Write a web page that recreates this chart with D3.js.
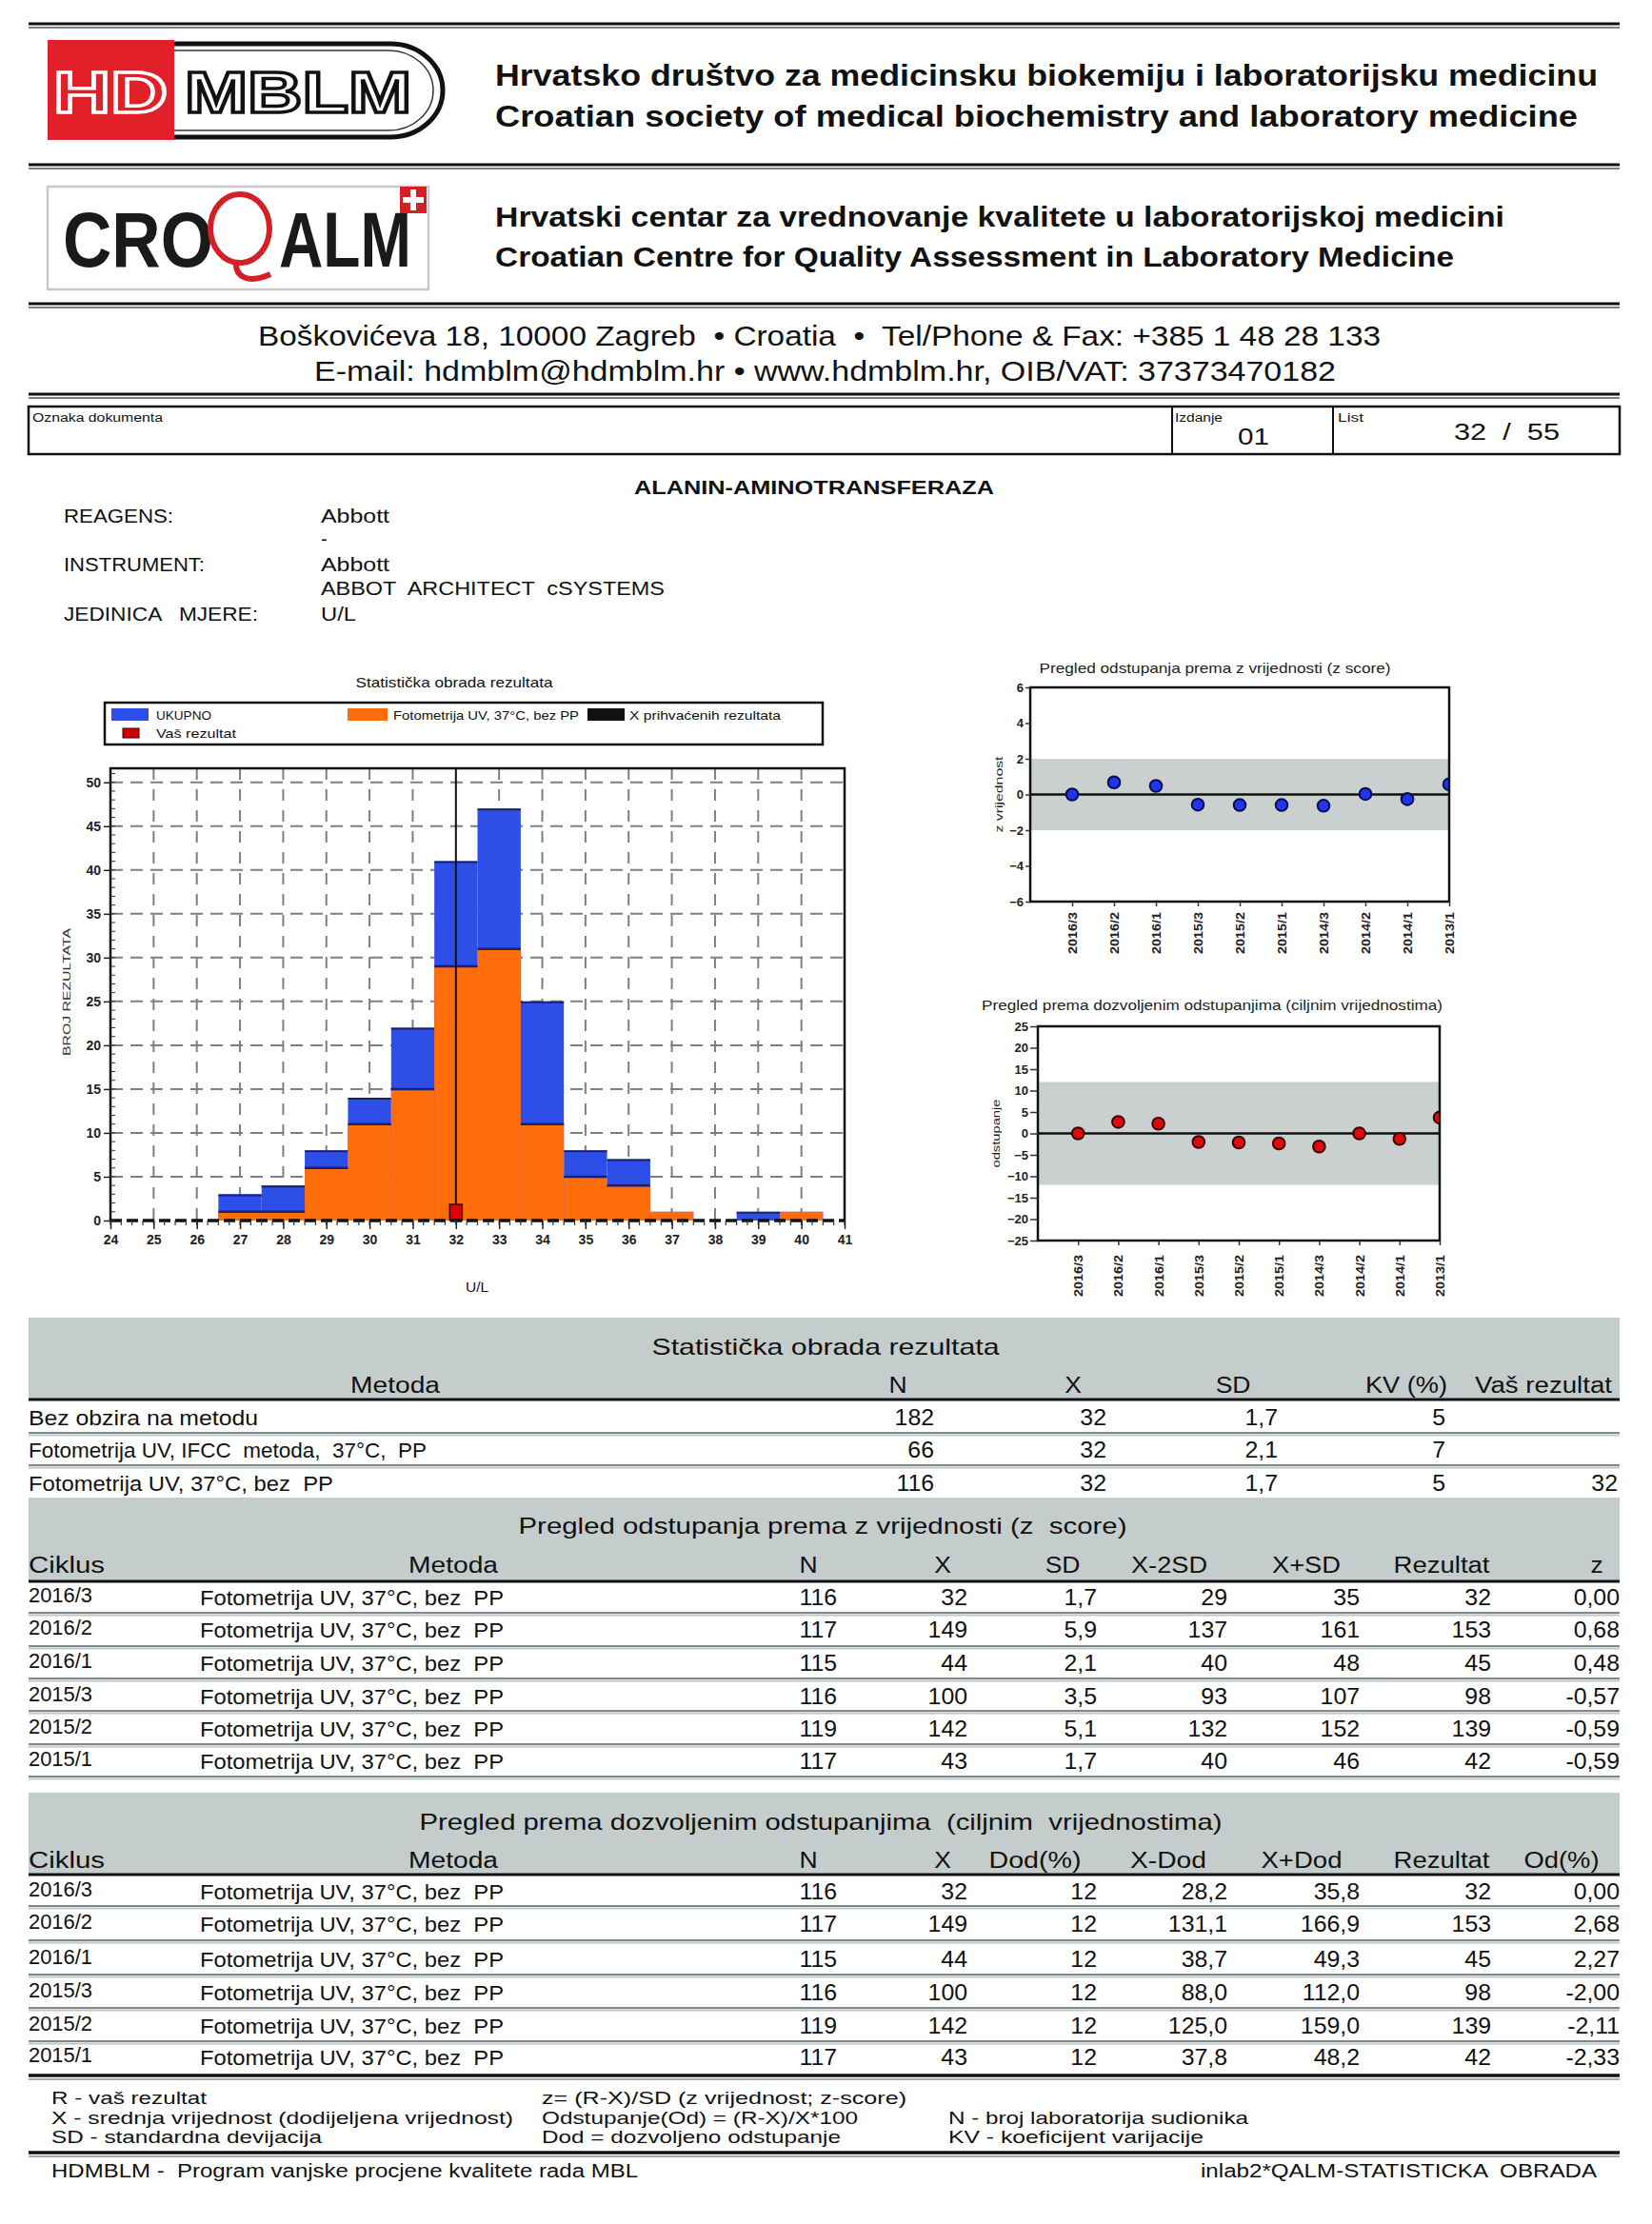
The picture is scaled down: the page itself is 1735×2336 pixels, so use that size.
<!DOCTYPE html>
<html><head><meta charset="utf-8">
<script src="https://cdn.jsdelivr.net/npm/d3@7"></script>
<style>
html,body{margin:0;padding:0;background:#fff;}
svg text{white-space:pre;font-family:"Liberation Sans",Arial,sans-serif;}
</style></head><body>
<svg id="page" width="1735" height="2336"></svg>
<script>
// ---------------- DATA ----------------
const histBins = [27,28,29,30,31,32,33,34,35,36,37,38,39,40];
const histUkupno = [3,4,8,14,22,41,47,25,8,7,1,0,1,1];
const histFotometrija = [1,1,6,11,15,29,31,11,5,4,1,0,0,1];
const histXTicks = [24,25,26,27,28,29,30,31,32,33,34,35,36,37,38,39,40,41];
const histYTicks = [0,5,10,15,20,25,30,35,40,45,50];
const meanAccepted = 32;
const yourResult = 32;

const cycles = ["2016/3","2016/2","2016/1","2015/3","2015/2","2015/1","2014/3","2014/2","2014/1","2013/1"];
const zScores = [0.00,0.68,0.48,-0.57,-0.59,-0.59,-0.63,0.03,-0.26,0.57];
const deviations = [0.00,2.68,2.27,-2.00,-2.11,-2.33,-3.05,0.00,-1.27,3.70];
const zTicks = [-6,-4,-2,0,2,4,6];
const devTicks = [-25,-20,-15,-10,-5,0,5,10,15,20,25];
const zLimit = 2;
const devLimit = 12;

const statMethods = ["Bez obzira na metodu","Fotometrija UV, IFCC  metoda,  37°C,  PP","Fotometrija UV, 37°C, bez  PP"];
const statN = ["182","66","116"];
const statX = ["32","32","32"];
const statSD = ["1,7","2,1","1,7"];
const statKV = ["5","7","5"];
const statVas = ["","","32"];

const tCycles = ["2016/3","2016/2","2016/1","2015/3","2015/2","2015/1"];
const tMethod = "Fotometrija UV, 37°C, bez  PP";
const tN = ["116","117","115","116","119","117"];
const tX = ["32","149","44","100","142","43"];
const tSD = ["1,7","5,9","2,1","3,5","5,1","1,7"];
const tX2SDlow = ["29","137","40","93","132","40"];
const tXSDhigh = ["35","161","48","107","152","46"];
const tRez = ["32","153","45","98","139","42"];
const tZ = ["0,00","0,68","0,48","-0,57","-0,59","-0,59"];
const tDod = ["12","12","12","12","12","12"];
const tXminDod = ["28,2","131,1","38,7","88,0","125,0","37,8"];
const tXplusDod = ["35,8","166,9","49,3","112,0","159,0","48,2"];
const tOd = ["0,00","2,68","2,27","-2,00","-2,11","-2,33"];

// ---------------- HELPERS ----------------
const svg = d3.select('#page');
svg.append('rect').attr('width',1735).attr('height',2336).attr('fill','#fff');

function T(p, x, y, s, o={}) {
  const size=o.size||22, anchor=o.anchor||'start';
  const t = p.append('text').text(s).attr('font-size',size).attr('fill',o.fill||'#111')
    .attr('font-weight',o.weight||'normal');
  if(o.family) t.attr('font-family',o.family);
  if(o.stroke) t.attr('stroke',o.stroke).attr('stroke-width',o.sw||1);
  let len = o.len;
  if(len==null && o.sx){ len = t.node().getComputedTextLength()*o.sx; }
  if(len!=null){
    t.attr('textLength',len).attr('lengthAdjust','spacingAndGlyphs');
    const x0 = anchor==='middle'? -len/2 : anchor==='end'? -len : 0;
    t.attr('x',x0).attr('y',0);
  } else { t.attr('text-anchor',anchor).attr('x',0).attr('y',0); }
  t.attr('transform',`translate(${x},${y})`+(o.rotate?` rotate(${o.rotate})`:''));
  return t;
}
function hline(y, x1, x2, w, c){ svg.append('line').attr('x1',x1).attr('x2',x2).attr('y1',y).attr('y2',y).attr('stroke',c).attr('stroke-width',w); }
function dbl(y){ hline(y,30,1701,3,'#111'); hline(y+4,30,1701,1.6,'#555'); }

// ---------------- HEADER ----------------
dbl(25); dbl(173); dbl(319); dbl(414);

// HDMBLM logo
svg.append('rect').attr('x',50).attr('y',42).attr('width',133).attr('height',105).attr('fill','#e2202a');
svg.append('path').attr('d','M183,46 H410 A55,49 0 0 1 410,144 H183').attr('fill','none').attr('stroke','#111').attr('stroke-width',5);
svg.append('path').attr('d','M183,53 H408 A47,42 0 0 1 408,137 H183').attr('fill','none').attr('stroke','#333').attr('stroke-width',1.5);
T(svg,56,118,'HD',{size:62,weight:'bold',fill:'none',stroke:'#fff',sw:3.5,len:120});
T(svg,194,118,'MBLM',{size:62,weight:'bold',fill:'#fff',stroke:'#111',sw:3.5,len:238});

const hf = "'Open Sans','Noto Sans',sans-serif";
T(svg,520,90,'Hrvatsko društvo za medicinsku biokemiju i laboratorijsku medicinu',{size:31,weight:600,family:hf,len:1158});
T(svg,520,133,'Croatian society of medical biochemistry and laboratory medicine',{size:31,weight:600,family:hf,len:1137});

// CROQALM logo
svg.append('rect').attr('x',50).attr('y',196).attr('width',400).attr('height',108).attr('fill','#fff').attr('stroke','#c9c9c9').attr('stroke-width',2.5);
T(svg,66,280,'CRO',{size:82,weight:'bold',fill:'#1a1a1a',len:158});
svg.append('ellipse').attr('cx',252).attr('cy',240).attr('rx',31).attr('ry',36).attr('fill','none').attr('stroke','#d41f26').attr('stroke-width',6);
svg.append('path').attr('d','M248,274 C246,292 262,298 284,288').attr('fill','none').attr('stroke','#d41f26').attr('stroke-width',6);
T(svg,293,280,'ALM',{size:82,weight:'bold',fill:'#1a1a1a',len:139});
svg.append('rect').attr('x',420).attr('y',196).attr('width',28).attr('height',28).attr('fill','#d41f26');
svg.append('rect').attr('x',431).attr('y',199).attr('width',6).attr('height',22).attr('fill','#fff');
svg.append('rect').attr('x',423).attr('y',207).attr('width',22).attr('height',6).attr('fill','#fff');

T(svg,520,238,'Hrvatski centar za vrednovanje kvalitete u laboratorijskoj medicini',{size:29,weight:600,family:hf,len:1060});
T(svg,520,280,'Croatian Centre for Quality Assessment in Laboratory Medicine',{size:29,weight:600,family:hf,len:1007});
T(svg,271,363,'Boškovićeva 18, 10000 Zagreb  • Croatia  •  Tel/Phone & Fax: +385 1 48 28 133',{size:29,weight:500,family:hf,len:1179});
T(svg,330,400,'E-mail: hdmblm@hdmblm.hr • www.hdmblm.hr, OIB/VAT: 37373470182',{size:29,weight:500,family:hf,len:1073});

// document box
svg.append('rect').attr('x',30).attr('y',427).attr('width',1671).attr('height',50).attr('fill','none').attr('stroke','#111').attr('stroke-width',2.5);
svg.append('line').attr('x1',1231).attr('x2',1231).attr('y1',427).attr('y2',477).attr('stroke','#111').attr('stroke-width',2);
svg.append('line').attr('x1',1400).attr('x2',1400).attr('y1',427).attr('y2',477).attr('stroke','#111').attr('stroke-width',2);
T(svg,34,443,'Oznaka dokumenta',{size:12,len:137});
T(svg,1234,443,'Izdanje',{size:12,len:50});
T(svg,1300,467,'01',{size:23,len:33});
T(svg,1405,443,'List',{size:12,len:27});
T(svg,1527,462,'32  /  55',{size:23,len:111});

// Title and info
T(svg,666,519,'ALANIN-AMINOTRANSFERAZA',{size:20,weight:'bold',len:378});
T(svg,67,549,'REAGENS:',{size:20,len:115});
T(svg,337,549,'Abbott',{size:20,len:72});
T(svg,337,573,'-',{size:20});
T(svg,67,600,'INSTRUMENT:',{size:20,len:148});
T(svg,337,600,'Abbott',{size:20,len:72});
T(svg,337,625,'ABBOT  ARCHITECT  cSYSTEMS',{size:20,len:361});
T(svg,67,652,'JEDINICA   MJERE:',{size:20,len:204});
T(svg,337,652,'U/L',{size:20,len:37});

// ---------------- HISTOGRAM ----------------
const BLUE='#2d4fe8', ORANGE='#ff6c0a';
const hx = d3.scaleLinear().domain([24,41]).range([116,887]);
const hy = d3.scaleLinear().domain([0,51.6]).range([1282,807]);
const hg = svg.append('g');
T(hg,477,722,'Statistička obrada rezultata',{size:15,anchor:'middle',len:207});
// legend
hg.append('rect').attr('x',110).attr('y',738).attr('width',754).attr('height',44).attr('fill','#fff').attr('stroke','#111').attr('stroke-width',2.5);
hg.append('rect').attr('x',117).attr('y',744).attr('width',39).attr('height',13).attr('fill',BLUE);
T(hg,164,756,'UKUPNO',{size:13,len:58});
hg.append('rect').attr('x',365).attr('y',744).attr('width',42).attr('height',13).attr('fill',ORANGE);
T(hg,413,756,'Fotometrija UV, 37°C, bez PP',{size:13,len:195});
hg.append('rect').attr('x',617).attr('y',744).attr('width',39).attr('height',13).attr('fill','#111');
T(hg,661,756,'X prihvaćenih rezultata',{size:13,len:159});
hg.append('rect').attr('x',129).attr('y',765).attr('width',17).attr('height',10).attr('fill','#d00000').attr('stroke','#300').attr('stroke-width',1);
T(hg,164,775,'Vaš rezultat',{size:13,len:84});

// grid
hg.selectAll('.gy').data(histYTicks.filter(v=>v>0)).join('line')
  .attr('x1',hx(24)).attr('x2',hx(41)).attr('y1',d=>hy(d)).attr('y2',d=>hy(d))
  .attr('stroke','#7f7f7f').attr('stroke-width',2).attr('stroke-dasharray','13,8');
hg.selectAll('.gx').data(histXTicks.filter(v=>v>24&&v<41&&v!==meanAccepted)).join('line')
  .attr('x1',d=>hx(d)).attr('x2',d=>hx(d)).attr('y1',hy.range()[1]).attr('y2',hy(0))
  .attr('stroke','#7f7f7f').attr('stroke-width',2).attr('stroke-dasharray','12,10');
// bars
const binData = histBins.map((b,i)=>({b, tot:histUkupno[i], fot:histFotometrija[i]}));
hg.selectAll('.bb').data(binData.filter(d=>d.tot>0)).join('rect')
  .attr('x',d=>hx(d.b-0.5)).attr('width',d=>hx(d.b+0.5)-hx(d.b-0.5))
  .attr('y',d=>hy(d.tot)).attr('height',d=>hy(0)-hy(d.tot)).attr('fill',BLUE);
hg.selectAll('.bt').data(binData.filter(d=>d.tot>d.fot)).join('line')
  .attr('x1',d=>hx(d.b-0.5)).attr('x2',d=>hx(d.b+0.5)).attr('y1',d=>hy(d.tot)+1).attr('y2',d=>hy(d.tot)+1)
  .attr('stroke','#16207a').attr('stroke-width',2);
hg.selectAll('.bo').data(binData.filter(d=>d.fot>0)).join('rect')
  .attr('x',d=>hx(d.b-0.5)).attr('width',d=>hx(d.b+0.5)-hx(d.b-0.5))
  .attr('y',d=>hy(d.fot)).attr('height',d=>hy(0)-hy(d.fot)).attr('fill',ORANGE);
hg.selectAll('.bot').data(binData.filter(d=>d.fot>0&&d.tot>d.fot)).join('line')
  .attr('x1',d=>hx(d.b-0.5)).attr('x2',d=>hx(d.b+0.5)).attr('y1',d=>hy(d.fot)).attr('y2',d=>hy(d.fot))
  .attr('stroke','#16207a').attr('stroke-width',2.5);
// mean line
hg.append('line').attr('x1',hx(meanAccepted)).attr('x2',hx(meanAccepted)).attr('y1',hy.range()[1]).attr('y2',hy(0)).attr('stroke','#111').attr('stroke-width',2);
// your result
hg.append('rect').attr('x',hx(yourResult)-6.5).attr('width',13).attr('y',hy(0)-17).attr('height',17).attr('fill','#e00000').attr('stroke','#3a0000').attr('stroke-width',1.5);
// frame
hg.append('path').attr('d',`M${hx(24)},${hy(0)} V${hy.range()[1]} H${hx(41)} V${hy(0)}`).attr('fill','none').attr('stroke','#111').attr('stroke-width',2.5);
hg.append('line').attr('x1',hx(24)).attr('x2',hx(41)).attr('y1',hy(0)).attr('y2',hy(0)).attr('stroke','#111').attr('stroke-width',3.5).attr('stroke-dasharray','12,5');
// minor ticks
hg.selectAll('.my').data(d3.range(0,52,1)).join('line')
  .attr('x1',hx(24)).attr('x2',hx(24)+5).attr('y1',d=>hy(d)).attr('y2',d=>hy(d)).attr('stroke','#333').attr('stroke-width',1);
hg.selectAll('.mx').data(d3.range(24,41.01,0.25)).join('line')
  .attr('x1',d=>hx(d)).attr('x2',d=>hx(d)).attr('y1',hy(0)).attr('y2',hy(0)+5).attr('stroke','#333').attr('stroke-width',1.2);
// axes
const hyAxis = hg.append('g').attr('transform',`translate(${hx(24)},0)`)
  .call(d3.axisLeft(hy).tickValues(histYTicks).tickSize(7).tickPadding(3));
hyAxis.select('.domain').remove();
hyAxis.selectAll('line').attr('stroke','#222').attr('stroke-width',1.5);
hyAxis.selectAll('text').attr('font-size',14).attr('font-weight','bold').attr('fill','#222').attr('font-family','Liberation Sans');
const hxAxis = hg.append('g').attr('transform',`translate(0,${hy(0)})`)
  .call(d3.axisBottom(hx).tickValues(histXTicks).tickSize(9).tickPadding(6));
hxAxis.select('.domain').remove();
hxAxis.selectAll('line').attr('stroke','#222').attr('stroke-width',1.5);
hxAxis.selectAll('text').attr('font-size',14).attr('font-weight','bold').attr('fill','#222').attr('font-family','Liberation Sans');
T(hg,74,1042,'BROJ REZULTATA',{size:11,anchor:'middle',rotate:-90,len:134,fill:'#333'});
T(hg,501,1357,'U/L',{size:14,anchor:'middle',len:24});

// ---------------- SMALL CHARTS ----------------
function pointChart(o){
  const g = svg.append('g');
  const x = d3.scaleLinear().domain([0,10]).range([o.x0,o.x1]);
  const y = d3.scaleLinear().domain(o.domain).range([o.y1,o.y0]);
  const cid = 'clip'+o.id;
  g.append('clipPath').attr('id',cid).append('rect').attr('x',o.x0).attr('y',o.y0).attr('width',o.x1-o.x0).attr('height',o.y1-o.y0);
  T(g,o.tx,o.ty,o.title,{size:15,anchor:'middle',len:o.tlen,fill:'#222'});
  g.append('rect').attr('x',o.x0).attr('width',o.x1-o.x0).attr('y',y(o.limit)).attr('height',y(-o.limit)-y(o.limit)).attr('fill','#c9d0cf');
  g.append('line').attr('x1',o.x0).attr('x2',o.x1).attr('y1',y(0)).attr('y2',y(0)).attr('stroke','#111').attr('stroke-width',2.5);
  g.append('g').attr('clip-path',`url(#${cid})`).selectAll('circle').data(o.values).join('circle')
    .attr('cx',(d,i)=>x(i+1)).attr('cy',d=>y(d)).attr('r',6.3)
    .attr('fill',o.color).attr('stroke',o.stroke).attr('stroke-width',2);
  g.append('rect').attr('x',o.x0).attr('y',o.y0).attr('width',o.x1-o.x0).attr('height',o.y1-o.y0).attr('fill','none').attr('stroke','#111').attr('stroke-width',2.5);
  const ya = g.append('g').attr('transform',`translate(${o.x0},0)`).call(d3.axisLeft(y).tickValues(o.ticks).tickSize(o.tick).tickPadding(2));
  ya.select('.domain').remove();
  ya.selectAll('line').attr('stroke','#333').attr('stroke-width',1.5);
  ya.selectAll('text').attr('font-size',13).attr('font-weight','bold').attr('fill','#222').attr('font-family','Liberation Sans');
  const xa = g.append('g').attr('transform',`translate(0,${o.y1})`).call(d3.axisBottom(x).tickValues(d3.range(1,11)).tickSize(5).tickFormat(''));
  xa.select('.domain').remove();
  xa.selectAll('line').attr('stroke','#333').attr('stroke-width',1.5);
  cycles.forEach((c,i)=>T(g,x(i+1)+5,o.y1+o.lab,c,{size:12,weight:'bold',anchor:'end',rotate:-90,len:44,fill:'#222'}));
  T(g,o.ylx,(o.y0+o.y1)/2,o.ylabel,{size:11,anchor:'middle',rotate:-90,len:o.yllen,fill:'#222'});
}
pointChart({id:'z',x0:1082,x1:1522,y0:722,y1:947,domain:[-6,6],ticks:zTicks,limit:zLimit,values:zScores,
  color:'#1e35f2',stroke:'#0b0b45',tick:5,lab:11,title:'Pregled odstupanja prema z vrijednosti (z score)',tx:1276,ty:707,tlen:369,
  ylabel:'z vrijednost',ylx:1053,yllen:80});
pointChart({id:'d',x0:1090,x1:1512,y0:1078,y1:1303,domain:[-25,25],ticks:devTicks,limit:devLimit,values:deviations,
  color:'#e00a0a',stroke:'#3a0000',tick:8,lab:15,title:'Pregled prema dozvoljenim odstupanjima (ciljnim vrijednostima)',tx:1273,ty:1061,tlen:484,
  ylabel:'odstupanje',ylx:1050,yllen:72});

// ---------------- TABLES ----------------
const GRAY='#c5cdcc';
function sep(y){ hline(y,30,1701,2,'#7f8989'); hline(y+2.5,30,1701,2,'#bfc6c6'); }
function thick(y){ hline(y,30,1701,3,'#111'); }

// Table 1
svg.append('rect').attr('x',30).attr('y',1384).attr('width',1671).attr('height',85).attr('fill',GRAY);
T(svg,867,1423,'Statistička obrada rezultata',{size:24,anchor:'middle',len:365});
[['Metoda',415,94],['N',943,null],['X',1127,null],['SD',1295,null],['KV (%)',1477,86],['Vaš rezultat',1621,144]]
  .forEach(([s,x,l])=>T(svg,x,1463,s,{size:23,anchor:'middle',len:l==null?undefined:l,sx:l==null?1.15:undefined}));
thick(1470);
const t1y=[1497,1531,1566];
statMethods.forEach((m,i)=>{
  T(svg,30,t1y[i],m,{size:22,len:[241,418,320][i]});
  T(svg,981,t1y[i],statN[i],{size:23,anchor:'end',sx:1.08});
  T(svg,1162,t1y[i],statX[i],{size:23,anchor:'end',sx:1.08});
  T(svg,1342,t1y[i],statSD[i],{size:23,anchor:'end',sx:1.08});
  T(svg,1518,t1y[i],statKV[i],{size:23,anchor:'end',sx:1.08});
  if(statVas[i]) T(svg,1699,t1y[i],statVas[i],{size:23,anchor:'end',sx:1.08});
});
sep(1505); sep(1539);

function cycleTable(o){
  svg.append('rect').attr('x',30).attr('y',o.gy).attr('width',1671).attr('height',o.gh).attr('fill',GRAY);
  T(svg,o.tcx,o.ty,o.title,{size:24,anchor:'middle',len:o.tlen});
  T(svg,30,o.hy,'Ciklus',{size:23,len:80});
  o.headers.forEach(([s,x,l])=>T(svg,x,o.hy,s,{size:23,anchor:'middle',len:l==null?undefined:l,sx:l==null?1.15:undefined}));
  thick(o.gy+o.gh+1);
  tCycles.forEach((c,i)=>{
    const y=o.rows[i];
    T(svg,30,y-3,c,{size:22,len:67});
    T(svg,210,y,tMethod,{size:22,len:319});
    o.cols.forEach(([arr,x])=>T(svg,x,y,arr[i],{size:23,anchor:'end',sx:1.08}));
  });
  o.seps.forEach(sep);
}
cycleTable({gy:1573,gh:87,tcx:864,ty:1611,tlen:639,title:'Pregled odstupanja prema z vrijednosti (z  score)',hy:1652,
  headers:[['Metoda',476,94],['N',849,null],['X',990,null],['SD',1116,null],['X-2SD',1228,80],['X+SD',1372,72],['Rezultat',1514,101],['z',1677,null]],
  cols:[[tN,879],[tX,1016],[tSD,1152],[tX2SDlow,1289],[tXSDhigh,1428],[tRez,1566],[tZ,1701]],
  rows:[1686,1720,1755,1790,1824,1858], seps:[1694,1729,1763,1797,1832,1866]});
cycleTable({gy:1883,gh:85,tcx:862,ty:1922,tlen:843,title:'Pregled prema dozvoljenim odstupanjima  (ciljnim  vrijednostima)',hy:1962,
  headers:[['Metoda',476,94],['N',849,null],['X',990,null],['Dod(%)',1087,97],['X-Dod',1227,80],['X+Dod',1367,85],['Rezultat',1514,101],['Od(%)',1640,79]],
  cols:[[tN,879],[tX,1016],[tDod,1152],[tXminDod,1289],[tXplusDod,1428],[tRez,1566],[tOd,1701]],
  rows:[1995,2029,2066,2101,2136,2169], seps:[2002,2038,2074,2109,2144]});
hline(2180,30,1701,3.5,'#111'); hline(2184,30,1701,1.5,'#888');

// ---------------- FOOTER ----------------
T(svg,54,2210,'R - vaš rezultat',{size:19,len:163});
T(svg,54,2231,'X - srednja vrijednost (dodijeljena vrijednost)',{size:19,len:485});
T(svg,54,2251,'SD - standardna devijacija',{size:19,len:284});
T(svg,569,2210,'z= (R-X)/SD (z vrijednost; z-score)',{size:19,len:383});
T(svg,569,2231,'Odstupanje(Od) = (R-X)/X*100',{size:19,len:332});
T(svg,569,2251,'Dod = dozvoljeno odstupanje',{size:19,len:314});
T(svg,996,2231,'N - broj laboratorija sudionika',{size:19,len:315});
T(svg,996,2251,'KV - koeficijent varijacije',{size:19,len:268});
hline(2261,30,1701,3.5,'#111'); hline(2265,30,1701,1.5,'#888');
T(svg,54,2287,'HDMBLM -  Program vanjske procjene kvalitete rada MBL',{size:20,len:616});
T(svg,1677,2287,'inlab2*QALM-STATISTICKA  OBRADA',{size:20,anchor:'end',len:416});
</script>
</body></html>
